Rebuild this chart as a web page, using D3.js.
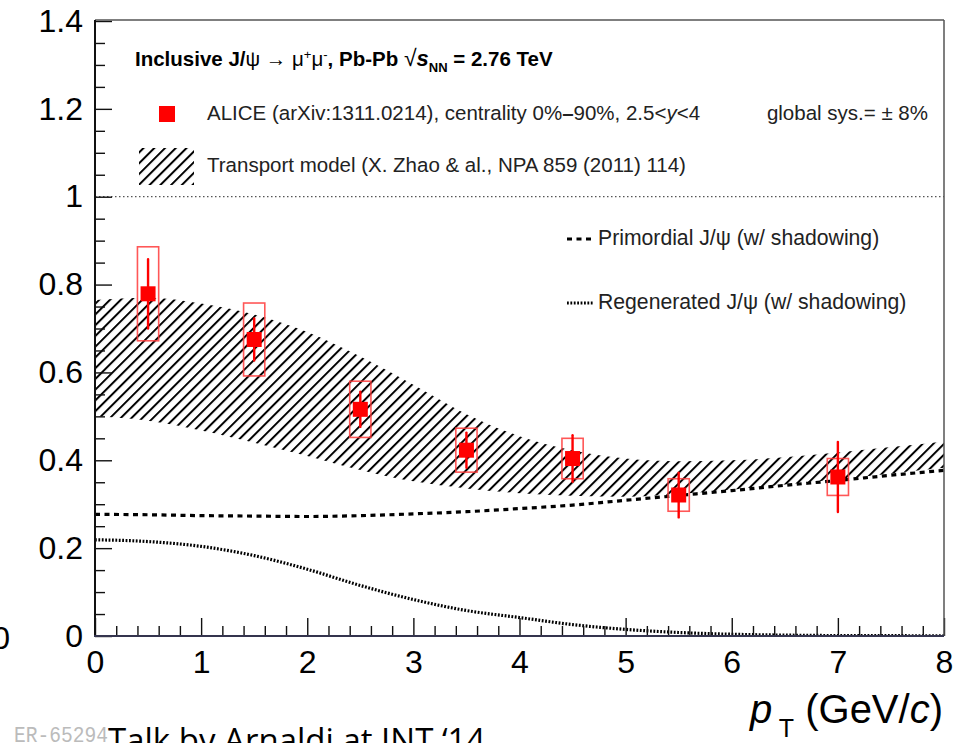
<!DOCTYPE html>
<html>
<head>
<meta charset="utf-8">
<script src="https://cdn.jsdelivr.net/npm/d3@7"></script>
<style>
  html, body { margin: 0; padding: 0; background: #fff; }
  svg { display: block; font-family: "Liberation Sans", Arial, Helvetica, sans-serif; }
</style>
</head>
<body>
<svg id="chart" width="963" height="743"></svg>
<script>
// ALICE inclusive J/psi R_AA vs pT, Pb-Pb 2.76 TeV, with transport model curves
const ptData   = [0.5, 1.5, 2.5, 3.5, 4.5, 5.5, 7];
const raa      = [0.779, 0.675, 0.516, 0.423, 0.404, 0.321, 0.362];
const statErr  = [0.079, 0.048, 0.040, 0.040, 0.053, 0.051, 0.080];
const sysErr   = [0.107, 0.083, 0.064, 0.050, 0.046, 0.037, 0.042];
const sysHalfWidth = 0.1;

// Transport model (Zhao et al.) band and components
const modelPt     = [0, 0.5, 1, 1.5, 2, 2.5, 3, 3.5, 4, 4.5, 5, 5.5, 6, 6.5, 7, 7.5, 8];
const bandUpper   = [0.765, 0.770, 0.757, 0.732, 0.692, 0.636, 0.572, 0.505, 0.455, 0.423, 0.404, 0.398, 0.400, 0.407, 0.418, 0.430, 0.443];
const bandLower   = [0.500, 0.490, 0.468, 0.440, 0.410, 0.378, 0.352, 0.336, 0.325, 0.319, 0.317, 0.323, 0.333, 0.345, 0.357, 0.370, 0.383];
const primordial  = [0.277, 0.276, 0.274, 0.273, 0.272, 0.274, 0.278, 0.283, 0.290, 0.298, 0.309, 0.320, 0.331, 0.343, 0.354, 0.366, 0.377];
const regenerated = [0.219, 0.215, 0.204, 0.183, 0.152, 0.115, 0.083, 0.058, 0.042, 0.026, 0.015, 0.008, 0.004, 0.002, 0.001, 0.0007, 0.0005];

const xTicks = [0, 1, 2, 3, 4, 5, 6, 7, 8];
const yTicks = [0, 0.2, 0.4, 0.6, 0.8, 1, 1.2, 1.4];

const svg = d3.select("#chart");
const X0 = 95, X1 = 944, Y0 = 636, Y1 = 21;
const x = d3.scaleLinear().domain([0, 8]).range([X0, X1]);
const y = d3.scaleLinear().domain([0, 1.4]).range([Y0, Y1]);

// hatch pattern for the model band
const defs = svg.append("defs");
const pat = defs.append("pattern")
  .attr("id", "hatch").attr("patternUnits", "userSpaceOnUse")
  .attr("width", 7.6).attr("height", 7.6)
  .attr("patternTransform", "rotate(45)");
pat.append("line").attr("x1", 1).attr("y1", -1).attr("x2", 1).attr("y2", 9)
  .attr("stroke", "#000").attr("stroke-width", 2.0);

defs.append("clipPath").attr("id", "plotclip")
  .append("rect").attr("x", X0).attr("y", Y1).attr("width", X1 - X0).attr("height", Y0 - Y1);

const model = modelPt.map((p, i) => ({p, lo: bandLower[i], hi: bandUpper[i], prim: primordial[i], reg: regenerated[i]}));

const plot = svg.append("g").attr("clip-path", "url(#plotclip)");

// unity reference line
plot.append("line")
  .attr("x1", x(0)).attr("x2", x(8)).attr("y1", y(1)).attr("y2", y(1))
  .attr("stroke", "#555").attr("stroke-width", 1.3).attr("stroke-dasharray", "1.5 2.5");

plot.append("path").datum(model)
  .attr("fill", "url(#hatch)")
  .attr("d", d3.area().x(d => x(d.p)).y0(d => y(d.lo)).y1(d => y(d.hi)).curve(d3.curveMonotoneX));

plot.append("path").datum(model)
  .attr("fill", "none").attr("stroke", "#000").attr("stroke-width", 3.2)
  .attr("stroke-dasharray", "5 4.5")
  .attr("d", d3.line().x(d => x(d.p)).y(d => y(d.prim)).curve(d3.curveMonotoneX));

plot.append("path").datum(model)
  .attr("fill", "none").attr("stroke", "#000").attr("stroke-width", 3.2)
  .attr("stroke-dasharray", "1.8 1.6")
  .attr("d", d3.line().x(d => x(d.p)).y(d => y(d.reg)).curve(d3.curveMonotoneX));

// data points: systematic boxes, statistical bars, markers
const pts = ptData.map((p, i) => ({p, v: raa[i], st: statErr[i], sy: sysErr[i]}));
const gp = svg.append("g");
gp.selectAll("rect.sys").data(pts).join("rect").attr("class", "sys")
  .attr("x", d => x(d.p - sysHalfWidth)).attr("width", d => x(d.p + sysHalfWidth) - x(d.p - sysHalfWidth))
  .attr("y", d => y(d.v + d.sy)).attr("height", d => y(d.v - d.sy) - y(d.v + d.sy))
  .attr("fill", "none").attr("stroke", "#ff3a3a").attr("stroke-width", 1.6).attr("stroke-opacity", 0.85);
gp.selectAll("line.stat").data(pts).join("line").attr("class", "stat")
  .attr("x1", d => x(d.p)).attr("x2", d => x(d.p))
  .attr("y1", d => y(d.v + d.st)).attr("y2", d => y(d.v - d.st))
  .attr("stroke", "#f00").attr("stroke-width", 2.4).attr("stroke-linecap", "round");
gp.selectAll("rect.mk").data(pts).join("rect").attr("class", "mk")
  .attr("x", d => x(d.p) - 7.5).attr("y", d => y(d.v) - 7.5)
  .attr("width", 15).attr("height", 15).attr("fill", "#f00");

// axes
const fmt = d3.format("~g");
const yMajor = svg.append("g").attr("transform", `translate(${X0},0)`)
  .call(d3.axisLeft(y).tickValues(yTicks).tickFormat(fmt).tickSizeInner(-17).tickSizeOuter(0).tickPadding(12));
const yMinor = svg.append("g").attr("transform", `translate(${X0},0)`)
  .call(d3.axisLeft(y).tickValues(d3.range(0, 1.4001, 0.05).filter(v => Math.abs(v / 0.2 - Math.round(v / 0.2)) > 1e-6))
    .tickFormat("").tickSizeInner(-10).tickSizeOuter(0));
const xMajor = svg.append("g").attr("transform", `translate(0,${Y0})`)
  .call(d3.axisBottom(x).tickValues(xTicks).tickFormat(fmt).tickSizeInner(-18).tickSizeOuter(0).tickPadding(14));
const xMinor = svg.append("g").attr("transform", `translate(0,${Y0})`)
  .call(d3.axisBottom(x).tickValues(d3.range(0, 8.001, 0.2).filter(v => Math.abs(v - Math.round(v)) > 1e-6))
    .tickFormat("").tickSizeInner(-10).tickSizeOuter(0));
[yMajor, yMinor, xMajor, xMinor].forEach(g => {
  g.select(".domain").remove();
  g.selectAll(".tick line").attr("stroke", "#111").attr("stroke-width", 1.4);
  g.selectAll("text").attr("font-size", 32).attr("fill", "#000")
    .attr("font-family", "'Liberation Sans', Arial, sans-serif");
});

// frame
svg.append("line").attr("x1", X0).attr("x2", X1).attr("y1", Y1 - 1).attr("y2", Y1 - 1)
  .attr("stroke", "#555").attr("stroke-width", 1.5);
svg.append("line").attr("x1", X1).attr("x2", X1).attr("y1", Y1 - 1).attr("y2", Y0)
  .attr("stroke", "#555").attr("stroke-width", 1.5);
svg.append("line").attr("x1", X0).attr("x2", X0).attr("y1", Y1 - 1).attr("y2", Y0 + 1)
  .attr("stroke", "#111").attr("stroke-width", 2);
svg.append("line").attr("x1", X0 - 1).attr("x2", X1).attr("y1", Y0).attr("y2", Y0)
  .attr("stroke", "#34344e").attr("stroke-width", 2.2);

// axis title
const xt = svg.append("text").attr("x", 943).attr("y", 723).attr("text-anchor", "end")
  .attr("font-size", 40).attr("fill", "#000");
xt.append("tspan").attr("font-style", "italic").text("p");
xt.append("tspan").attr("font-size", 25).attr("dy", 14).text(" T");
xt.append("tspan").attr("dy", -14).text(" (GeV/");
xt.append("tspan").attr("font-style", "italic").text("c");
xt.append("tspan").text(")");

// legend and header
const fs = 20.5;
const t1 = svg.append("text").attr("x", 135).attr("y", 66).attr("font-size", 20.5).attr("font-weight", "bold").attr("fill", "#000");
t1.append("tspan").text("Inclusive J/");
t1.append("tspan").attr("font-weight", "normal").text("ψ  →  μ");
t1.append("tspan").attr("font-weight", "normal").attr("font-size", 13).attr("dy", -7).text("+");
t1.append("tspan").attr("font-weight", "normal").attr("dy", 7).text("μ");
t1.append("tspan").attr("font-weight", "normal").attr("font-size", 13).attr("dy", -7).text("-");
t1.append("tspan").attr("dy", 7).text(", Pb-Pb ");
t1.append("tspan").attr("font-weight", "normal").attr("font-size", 23).text("√");
t1.append("tspan").attr("font-style", "italic").attr("font-size", 22).text("s");
t1.append("tspan").attr("font-size", 13).attr("dy", 6).text("NN");
t1.append("tspan").attr("dy", -6).text(" = 2.76 TeV");

svg.append("rect").attr("x", 159).attr("y", 106).attr("width", 16).attr("height", 16).attr("fill", "#f00");
const t2 = svg.append("text").attr("x", 207).attr("y", 120).attr("font-size", fs).attr("fill", "#222");
t2.append("tspan").text("ALICE (arXiv:1311.0214), centrality 0%");
t2.append("tspan").attr("font-weight", "bold").text("–");
t2.append("tspan").text("90%, 2.5<");
t2.append("tspan").attr("font-style", "italic").text("y");
t2.append("tspan").text("<4");
svg.append("text").attr("x", 928).attr("y", 120).attr("text-anchor", "end").attr("font-size", fs).attr("fill", "#222")
  .text("global sys.= ± 8%");

svg.append("rect").attr("x", 139).attr("y", 148).attr("width", 55).attr("height", 37).attr("fill", "url(#hatch)");
svg.append("text").attr("x", 207).attr("y", 172).attr("font-size", fs).attr("fill", "#222")
  .text("Transport model (X. Zhao & al., NPA 859 (2011) 114)");

svg.append("line").attr("x1", 567).attr("x2", 594).attr("y1", 239).attr("y2", 239)
  .attr("stroke", "#000").attr("stroke-width", 3.2).attr("stroke-dasharray", "5 4.5");
svg.append("text").attr("x", 598).attr("y", 245).attr("font-size", 21.2).attr("fill", "#222")
  .text("Primordial J/ψ (w/ shadowing)");
svg.append("line").attr("x1", 567).attr("x2", 594).attr("y1", 303).attr("y2", 303)
  .attr("stroke", "#000").attr("stroke-width", 3.2).attr("stroke-dasharray", "1.8 1.6");
svg.append("text").attr("x", 598).attr("y", 309).attr("font-size", 21.2).attr("fill", "#222")
  .text("Regenerated J/ψ (w/ shadowing)");

// edge remnants and footer
svg.append("text").attr("x", 10).attr("y", 649).attr("text-anchor", "end").attr("font-size", 32).attr("fill", "#000").text("0");
svg.append("text").attr("x", 14).attr("y", 742).attr("font-size", 22).attr("fill", "#bbb")
  .attr("font-family", "'Liberation Mono', 'DejaVu Sans Mono', monospace")
  .attr("textLength", 94).attr("lengthAdjust", "spacingAndGlyphs").text("ER-65294");
svg.append("text").attr("x", 108).attr("y", 752).attr("font-size", 33).attr("fill", "#000")
  .attr("font-family", "'Open Sans', sans-serif").text("Talk by Arnaldi at INT ‘14");
</script>
</body>
</html>
